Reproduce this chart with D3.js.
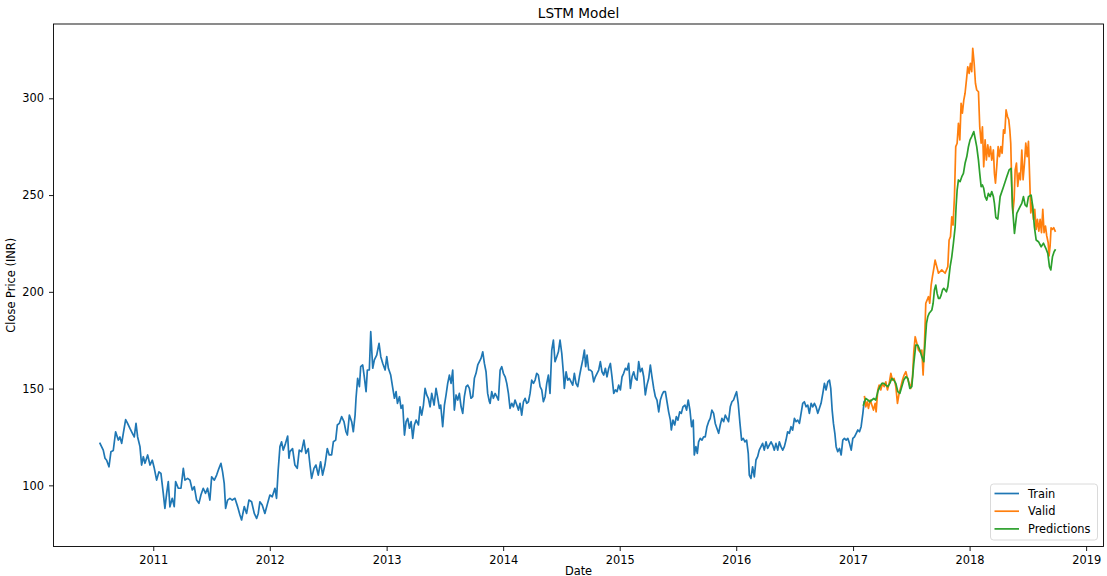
<!DOCTYPE html>
<html>
<head>
<meta charset="utf-8">
<script src="https://cdn.jsdelivr.net/npm/d3@7"></script>
<style>
  body { margin: 0; background: #fff; }
  svg { display: block; font-family: "DejaVu Sans", sans-serif; }
</style>
</head>
<body>
<div id="chart"></div>
<script>
// Dates are given as decimal years, closing prices in INR
var trainYears = [
  2010.543, 2010.571, 2010.586, 2010.600, 2010.620, 2010.637, 2010.657, 2010.677, 2010.700, 2010.714,
  2010.729, 2010.743, 2010.763, 2010.780, 2010.800, 2010.820, 2010.837, 2010.852, 2010.866, 2010.886,
  2010.900, 2010.915, 2010.929, 2010.952, 2010.972, 2010.992, 2011.009, 2011.029, 2011.049, 2011.066,
  2011.086, 2011.100, 2011.115, 2011.129, 2011.143, 2011.163, 2011.180, 2011.192, 2011.215, 2011.238,
  2011.258, 2011.272, 2011.295, 2011.315, 2011.335, 2011.352, 2011.372, 2011.392, 2011.409, 2011.429,
  2011.449, 2011.466, 2011.486, 2011.501, 2011.524, 2011.544, 2011.564, 2011.581, 2011.595, 2011.609,
  2011.621, 2011.638, 2011.658, 2011.678, 2011.701, 2011.724, 2011.744, 2011.758, 2011.781, 2011.801,
  2011.821, 2011.844, 2011.867, 2011.887, 2011.901, 2011.915, 2011.935, 2011.958, 2011.981, 2012.001,
  2012.021, 2012.044, 2012.058, 2012.072, 2012.087, 2012.101, 2012.115, 2012.135, 2012.153, 2012.164,
  2012.172, 2012.195, 2012.215, 2012.235, 2012.252, 2012.272, 2012.292, 2012.309, 2012.329, 2012.344,
  2012.358, 2012.378, 2012.395, 2012.415, 2012.435, 2012.452, 2012.472, 2012.492, 2012.509, 2012.529,
  2012.544, 2012.564, 2012.578, 2012.595, 2012.615, 2012.635, 2012.652, 2012.664, 2012.681, 2012.701,
  2012.715, 2012.730, 2012.738, 2012.752, 2012.767, 2012.778, 2012.795, 2012.807, 2012.824, 2012.835,
  2012.852, 2012.864, 2012.881, 2012.895, 2012.915, 2012.935, 2012.950, 2012.967, 2012.987, 2013.001,
  2013.015, 2013.035, 2013.053, 2013.067, 2013.081, 2013.093, 2013.110, 2013.124, 2013.138, 2013.153,
  2013.167, 2013.181, 2013.196, 2013.210, 2013.224, 2013.238, 2013.253, 2013.273, 2013.287, 2013.301,
  2013.316, 2013.330, 2013.344, 2013.358, 2013.373, 2013.387, 2013.407, 2013.424, 2013.439, 2013.453,
  2013.464, 2013.481, 2013.496, 2013.510, 2013.524, 2013.539, 2013.553, 2013.567, 2013.581, 2013.596,
  2013.610, 2013.624, 2013.639, 2013.653, 2013.667, 2013.682, 2013.696, 2013.710, 2013.724, 2013.739,
  2013.753, 2013.767, 2013.782, 2013.796, 2013.810, 2013.825, 2013.839, 2013.853, 2013.867, 2013.882,
  2013.888, 2013.902, 2013.916, 2013.931, 2013.945, 2013.959, 2013.974, 2013.988, 2014.002, 2014.017,
  2014.031, 2014.045, 2014.059, 2014.074, 2014.088, 2014.102, 2014.117, 2014.131, 2014.145, 2014.159,
  2014.174, 2014.188, 2014.202, 2014.217, 2014.231, 2014.245, 2014.260, 2014.274, 2014.288, 2014.302,
  2014.317, 2014.331, 2014.345, 2014.360, 2014.374, 2014.388, 2014.402, 2014.417, 2014.431, 2014.445,
  2014.460, 2014.474, 2014.488, 2014.503, 2014.517,
  2014.525, 2014.540, 2014.554, 2014.568, 2014.583,
  2014.597, 2014.611, 2014.625, 2014.640, 2014.654, 2014.668, 2014.683, 2014.697,
  2014.708, 2014.720,
  2014.734, 2014.748, 2014.763, 2014.777, 2014.791, 2014.806, 2014.820, 2014.834, 2014.848, 2014.863,
  2014.877, 2014.891, 2014.906, 2014.920, 2014.934, 2014.949, 2014.963, 2014.977, 2014.991, 2015.006,
  2015.020, 2015.034, 2015.049, 2015.063, 2015.077, 2015.092, 2015.106, 2015.120, 2015.134, 2015.149,
  2015.163, 2015.177, 2015.192, 2015.206, 2015.220, 2015.234, 2015.249, 2015.263, 2015.277, 2015.292,
  2015.306, 2015.320, 2015.335, 2015.349, 2015.363, 2015.377, 2015.392, 2015.406, 2015.420, 2015.435,
  2015.443, 2015.457, 2015.472, 2015.486, 2015.500, 2015.515, 2015.529, 2015.543,
  2015.560, 2015.574, 2015.588, 2015.603, 2015.617, 2015.631, 2015.640, 2015.654, 2015.666, 2015.677,
  2015.691, 2015.706, 2015.720, 2015.734, 2015.749, 2015.763, 2015.777, 2015.791, 2015.806, 2015.820,
  2015.834, 2015.849, 2015.863, 2015.877, 2015.892, 2015.906, 2015.920, 2015.934, 2015.949, 2015.963,
  2015.977, 2015.992, 2016.003, 2016.017, 2016.032, 2016.046, 2016.060, 2016.075, 2016.089, 2016.103,
  2016.112, 2016.126, 2016.140, 2016.155, 2016.169, 2016.183, 2016.197, 2016.212, 2016.226, 2016.240,
  2016.255, 2016.269, 2016.283, 2016.298, 2016.312, 2016.326, 2016.340, 2016.355, 2016.369, 2016.383,
  2016.398, 2016.412, 2016.426, 2016.440, 2016.455, 2016.469, 2016.483, 2016.498, 2016.512, 2016.526,
  2016.541, 2016.555, 2016.569, 2016.583, 2016.598, 2016.612, 2016.626, 2016.641, 2016.655, 2016.669,
  2016.683, 2016.698, 2016.712, 2016.726, 2016.741, 2016.755, 2016.769, 2016.784, 2016.798, 2016.809,
  2016.821, 2016.832, 2016.844, 2016.855, 2016.869, 2016.884, 2016.898, 2016.912, 2016.926, 2016.941,
  2016.955, 2016.969, 2016.984, 2016.998, 2017.012, 2017.027, 2017.041, 2017.055, 2017.069, 2017.084, 2017.095
];
var trainClose = [
  121.7, 118.2, 114, 113, 109.6, 117.4, 118, 127.7, 123.4, 125,
  121.7, 126.9, 134, 132, 129.4, 127, 125, 132, 125, 120,
  110.5, 114.8, 111.4, 115.7, 110.5, 113, 108.8, 102.7, 107, 106.2,
  95.9, 88.1, 95.9, 101.9, 88.9, 93.3, 89, 101.9, 98.5, 98.5,
  108.8, 102.7, 103.6, 102.7, 97.6, 99.3, 92.4, 90.7, 95, 98.5,
  95.9, 98.5, 92.4, 104.4, 102.7, 105.3, 108.8, 111.4, 107, 101,
  88.1, 92.4, 93.3, 92.4, 93.3, 89, 84.7, 82.1, 89, 85.5,
  92.4, 91.5, 85.5, 82.9, 85.5, 91.5, 89.8, 85.5, 90.7, 95,
  94.1, 98.5, 93.3, 107.9, 120, 122.5, 118.2, 121.7, 125.5, 114,
  117.4, 119, 110.5, 108.8, 118.2, 117.4, 123.4, 116.5, 119, 110.5,
  103.6, 108.8, 110.5, 105.3, 112.2, 105.3, 110.5, 119, 115.7, 115.7,
  122.5, 123.4, 131.2, 132, 135.5, 132.9, 127.7, 126, 136.3, 132.9,
  127.7, 136.3, 145, 155.3, 151, 161.3, 162.2, 157, 148.4, 159.6,
  159.6, 179.4, 160.5, 164.8, 167.3, 173.4, 166.5, 163, 159.6, 166.5,
  160.5, 157, 150.1, 145, 148.4, 142.4, 145.8, 139.8, 141.5, 126,
  132.9, 134.6, 129.5, 132.9, 124.3, 131.2, 133.7, 131.2, 140.6, 136.3,
  141.5, 150.1, 146.7, 145, 140.6, 147.5, 141.5, 150.1, 145, 139.8,
  141.5, 130.3, 141.5, 146.7, 152.7, 157, 152.7, 159.6, 138.9, 146.7,
  144.1, 147.5, 140.6, 137.2, 145.8, 151, 151.8, 150.1, 145, 145.8,
  155.3, 157.9, 162.2, 163.9, 165.6, 169, 163, 158.7, 147.5, 143.2,
  142.4, 148.4, 145, 147.5, 145.8, 144.1, 159.6, 161.3, 157.9, 156.1,
  152.7, 147.5, 139.8, 142.4, 140.6, 144.1, 141.5, 138.9, 142.4, 136.3,
  143.2, 145, 142.4, 143.2, 147.5, 154.4, 152.7, 154.4, 157.9, 157,
  151, 149.3, 143.2, 145.8, 152.7, 157, 147.5, 169.9, 175.1, 163.9,
  166.5, 169, 175.1, 168.2, 157.9,
  150.1, 158.7, 154.4, 155.3, 153.5,
  151.8, 157.9, 152.7, 151, 156.1, 160.5, 164.8, 169.9,
  161.3, 167.3,
  159.6, 159.6, 158.7, 153.5, 156.1, 157.9, 159.6, 163.9, 158.7, 157,
  160.5, 156.1, 160.5, 163, 156.1, 147.5, 149.3, 148.4, 151.8, 149.3,
  156.1, 157.9, 160.5, 159.6, 163, 150.1, 156.1, 158.7, 155.3, 154.4,
  163.9, 158.7, 160.5, 156.1, 146.7, 151.8, 155.3, 162.2, 156.1, 150.1,
  145.8, 144.1, 138, 144.1, 146.7, 148.4, 148.4, 143.2, 138, 133.7,
  128.6, 133.7, 131.2, 135.5, 133.7, 138, 137.2, 140.6,
  141.5, 138.9, 144.1, 138.9, 130.3, 133.7, 115.7, 120, 116.5, 122.5,
  124.3, 123.4, 125.1, 125.1, 130.3, 132.9, 134.6, 138.9, 137.2, 132,
  129.5, 126.9, 131.2, 134.6, 132.9, 136.3, 134.6, 132.9, 140.6, 143.2,
  144.1, 146.7, 148.4, 142.4, 132, 123.4, 124.3, 122.5, 123.4, 116.5,
  105.3, 103.6, 109.6, 104.4, 113.1, 114.8, 118.2, 120, 121.7, 118.2,
  122.5, 119.1, 120.8, 122.5, 120.8, 118.2, 121.7, 118.2, 122.5, 120,
  118.2, 120, 123.4, 127.7, 126.9, 130.3, 128.6, 134.6, 132.9, 133.7,
  132, 137.2, 142.4, 143.2, 140.6, 141.5, 137.2, 142.4, 140.6, 142.4,
  140.6, 137.2, 139.8, 142.4, 147.5, 152.7, 149.3, 153.5, 154.4, 150.1,
  138.9, 132, 126.9, 120, 117.4, 119.1, 115.7, 123.4, 124.3, 123.4,
  124.3, 121.7, 118.2, 124.3, 125.1, 126.9, 128.6, 127.7, 130.3, 137.2, 143.2
];

var validYears = [
  2017.098, 2017.109, 2017.121, 2017.132, 2017.147, 2017.161, 2017.175, 2017.190, 2017.198, 2017.212,
  2017.224, 2017.238, 2017.252, 2017.267, 2017.281, 2017.295, 2017.310, 2017.324, 2017.338, 2017.352,
  2017.367, 2017.381, 2017.395, 2017.410, 2017.424, 2017.438, 2017.453, 2017.467, 2017.481, 2017.495,
  2017.510, 2017.521, 2017.533, 2017.547, 2017.561, 2017.575, 2017.590, 2017.601, 2017.613, 2017.624,
  2017.636, 2017.647, 2017.658, 2017.670, 2017.681, 2017.693, 2017.704,
  2017.733, 2017.761, 2017.790, 2017.813, 2017.824, 2017.836, 2017.847, 2017.858, 2017.870, 2017.881,
  2017.893, 2017.904, 2017.916, 2017.927, 2017.938, 2017.950, 2017.961, 2017.973, 2017.984, 2017.996,
  2018.007, 2018.018, 2018.027, 2018.039, 2018.050, 2018.061, 2018.076, 2018.087, 2018.099, 2018.110,
  2018.121, 2018.133, 2018.144, 2018.156, 2018.167, 2018.179, 2018.190, 2018.204, 2018.213,
  2018.222, 2018.233, 2018.245, 2018.256, 2018.268, 2018.279, 2018.291, 2018.302, 2018.313, 2018.325,
  2018.336, 2018.345, 2018.353, 2018.362, 2018.371, 2018.382, 2018.391, 2018.402, 2018.413, 2018.425,
  2018.436, 2018.448, 2018.459, 2018.471, 2018.482, 2018.494, 2018.505, 2018.516, 2018.525, 2018.536,
  2018.548, 2018.559, 2018.571, 2018.582, 2018.594, 2018.605, 2018.617, 2018.628, 2018.639, 2018.651,
  2018.662, 2018.674, 2018.682, 2018.691, 2018.699, 2018.711, 2018.722, 2018.734
];
var validClose = [
  145.8, 140.6, 143.2, 139.8, 144.1, 141.5, 138.9, 142.4, 138, 149.3,
  151.8, 149.3, 152.7, 151, 153.5, 149.3, 152.7, 157.9, 154.4, 155.3,
  151, 142.4, 147.5, 151, 154.4, 157, 158.7, 155.3, 152.7, 150.1,
  156.1, 169, 176.8, 173.4, 169.9, 169, 169.9, 157, 173.4, 194.1,
  195.8, 197.5, 194.1, 203.5, 207.8, 212.1, 216.4,
  209.6, 211.3, 209.6, 213, 226.8, 228.5, 238.8, 234.5, 249.2, 275,
  276.8, 287.1, 278.5, 297.4, 292.3, 299.1, 302.6, 309.5, 316.3, 312.9,
  318.1, 313.8, 325.8, 318.1, 307.8, 304.3, 303.4, 285.3, 276.8, 285.3,
  264.6, 278.5, 268.1, 275.9, 269.9, 275, 268.1, 273.3, 261.2,
  256.2, 264.8, 275.1, 269.9, 275.1, 271.6, 283.7, 282, 294, 290.6,
  288.9, 283.7, 276.8, 254.5, 240.8, 247.7, 263, 266.5, 254.5, 261.3,
  257.9, 273.3, 257.9, 266.5, 276.8, 269.9, 277.7, 257.9, 240.8, 246,
  237.4, 242.6, 232.3, 237.4, 231.4, 237.4, 230.6, 242.6, 230.6, 234,
  228.9, 225.5, 218.6, 223.8, 233.1, 232.3, 233.1, 231.4
];

var predYears = [
  2017.089, 2017.109, 2017.127, 2017.144, 2017.161, 2017.178, 2017.195, 2017.212, 2017.230, 2017.247,
  2017.264, 2017.281, 2017.298, 2017.315, 2017.332, 2017.350, 2017.367, 2017.384, 2017.401, 2017.418,
  2017.435, 2017.453, 2017.470, 2017.487, 2017.504, 2017.521, 2017.538, 2017.555, 2017.573, 2017.590,
  2017.607, 2017.618, 2017.630, 2017.641, 2017.653, 2017.664, 2017.676, 2017.687, 2017.698, 2017.710,
  2017.721, 2017.733, 2017.744, 2017.756, 2017.767, 2017.778, 2017.790, 2017.801, 2017.813,
  2017.833, 2017.847, 2017.861, 2017.876, 2017.884, 2017.893, 2017.904, 2017.918, 2017.933, 2017.947,
  2017.961, 2017.976, 2017.990, 2018.004, 2018.018, 2018.036, 2018.047, 2018.061, 2018.076, 2018.087,
  2018.099, 2018.110, 2018.121, 2018.133, 2018.147, 2018.161, 2018.176, 2018.190, 2018.204, 2018.213,
  2018.225, 2018.242, 2018.262, 2018.291, 2018.319, 2018.339, 2018.356, 2018.368, 2018.385, 2018.405,
  2018.433, 2018.448, 2018.462, 2018.476, 2018.491, 2018.505, 2018.528, 2018.542, 2018.556, 2018.571,
  2018.591, 2018.614, 2018.634, 2018.654, 2018.671, 2018.685, 2018.697, 2018.711, 2018.725, 2018.734
];
var predClose = [
  141.5, 144.9, 144.1, 143.2, 144.1, 144.9, 144.1, 148.4, 151, 152.7,
  152.7, 151.8, 151, 152.7, 155.3, 154.4, 152.7, 148.4, 147.5, 151,
  154.4, 156.1, 155.3, 150.1, 151, 163, 172.5, 172.5, 169.9, 166.5,
  163.9, 173.4, 183.7, 187.1, 188.9, 189.7, 190.6, 194.1, 200.9, 203.5,
  199.2, 196.6, 196.6, 198.3, 200.9, 201.8, 200.9, 200, 202.6,
  213, 218.1, 225.1, 233.6, 244, 252.6, 257.8, 256.9, 259.5, 261.2,
  266.4, 269.9, 275, 278.5, 280.2, 282.8, 279.4, 275, 268.1, 261.2,
  254.3, 255.2, 253.5, 249.2, 247.4, 250.9, 249.2, 251.8, 249.2, 245.7,
  238.4, 237.6, 249.2, 254.3, 259.5, 263, 263.8, 244, 230.2, 240.6,
  244, 245.7, 249.2, 244.9, 244, 249.2, 250, 244, 233.6, 226.8,
  225.9, 223.3, 225.1, 222.5, 219.9, 213, 211.3, 218.1, 220.7, 221.6
];

var yearTicks = [2011, 2012, 2013, 2014, 2015, 2016, 2017, 2018, 2019];
var priceTicks = [100, 150, 200, 250, 300];
var seriesNames = ["Train", "Valid", "Predictions"];
var seriesColors = ["#1f77b4", "#ff7f0e", "#2ca02c"];

// decimal year -> Date (UTC)
function toDate(yr) {
  var Y = Math.floor(yr),
      a = Date.UTC(Y, 0, 1),
      b = Date.UTC(Y + 1, 0, 1);
  return new Date(a + (yr - Y) * (b - a));
}
function makeSeries(years, values) {
  return d3.zip(years, values).map(d => ({date: toDate(d[0]), value: d[1]}));
}

var margin = {top: 24, right: 3.5, bottom: 29.5, left: 53.5},
    width = 1107 - margin.left - margin.right,
    height = 576 - margin.top - margin.bottom;

var svgRoot = d3.select("#chart")
  .append("svg")
    .attr("width", 1107)
    .attr("height", 576);

var svg = svgRoot.append("g")
    .attr("transform", `translate(${margin.left},${margin.top})`);

var x = d3.scaleUtc()
  .domain([toDate(2010.144), toDate(2019.149)])
  .range([0, width]);

var y = d3.scaleLinear()
  .domain([68.4, 338.4])
  .range([height, 0]);

// X axis
var xAxis = svg.append("g")
  .attr("transform", `translate(0,${height})`)
  .call(d3.axisBottom(x)
    .tickValues(yearTicks.map(t => toDate(t)))
    .tickFormat(d3.utcFormat("%Y"))
    .tickSize(4.5)
    .tickPadding(5));

// Y axis
var yAxis = svg.append("g")
  .call(d3.axisLeft(y)
    .tickValues(priceTicks)
    .tickSize(4.5)
    .tickPadding(5));

[xAxis, yAxis].forEach(function(ax) {
  ax.select(".domain").remove();
  ax.selectAll(".tick line").attr("stroke", "#000").attr("stroke-width", 0.9);
  ax.selectAll(".tick text")
    .attr("fill", "#000")
    .style("font-size", "11.4px")
    .style("font-family", "'DejaVu Sans', sans-serif");
});

// Lines
var line = d3.line()
  .x(d => x(d.date))
  .y(d => y(d.value));

var allSeries = [
  makeSeries(trainYears, trainClose),
  makeSeries(validYears, validClose),
  makeSeries(predYears, predClose)
];

svg.selectAll("path.series")
  .data(allSeries)
  .enter()
  .append("path")
    .attr("class", "series")
    .attr("d", line)
    .attr("fill", "none")
    .attr("stroke", (d, i) => seriesColors[i])
    .attr("stroke-width", 1.7)
    .attr("stroke-linejoin", "round")
    .attr("stroke-linecap", "square");

// Frame
svg.append("rect")
  .attr("width", width)
  .attr("height", height)
  .attr("fill", "none")
  .attr("stroke", "#000")
  .attr("stroke-width", 0.9);

// Title and labels
svgRoot.append("text")
  .attr("x", margin.left + width / 2)
  .attr("y", 17.5)
  .attr("text-anchor", "middle")
  .style("font-size", "13.6px")
  .text("LSTM Model");

// sits just inside the bottom edge so the whole word shows
svgRoot.append("text")
  .attr("x", margin.left + width / 2)
  .attr("y", 574.5)
  .attr("text-anchor", "middle")
  .style("font-size", "11.4px")
  .text("Date");

svgRoot.append("text")
  .attr("transform", `translate(15,${margin.top + height / 2}) rotate(-90)`)
  .attr("text-anchor", "middle")
  .style("font-size", "11.4px")
  .text("Close Price (INR)");

// Legend
var legend = svgRoot.append("g")
  .attr("transform", "translate(990.5,484)");

legend.append("rect")
  .attr("width", 107)
  .attr("height", 56)
  .attr("rx", 3)
  .attr("fill", "#fff")
  .attr("fill-opacity", 0.8)
  .attr("stroke", "#cccccc")
  .attr("stroke-opacity", 0.8)
  .attr("stroke-width", 0.9);

var items = legend.selectAll("g.item")
  .data(seriesNames)
  .enter()
  .append("g")
    .attr("class", "item")
    .attr("transform", (d, i) => `translate(0,${9.5 + i * 17.7})`);

items.append("line")
  .attr("x1", 4)
  .attr("x2", 28.5)
  .attr("stroke", (d, i) => seriesColors[i])
  .attr("stroke-width", 1.7);

items.append("text")
  .attr("x", 37.5)
  .attr("dy", "0.36em")
  .style("font-size", "11.4px")
  .text(d => d);
</script>
</body>
</html>
